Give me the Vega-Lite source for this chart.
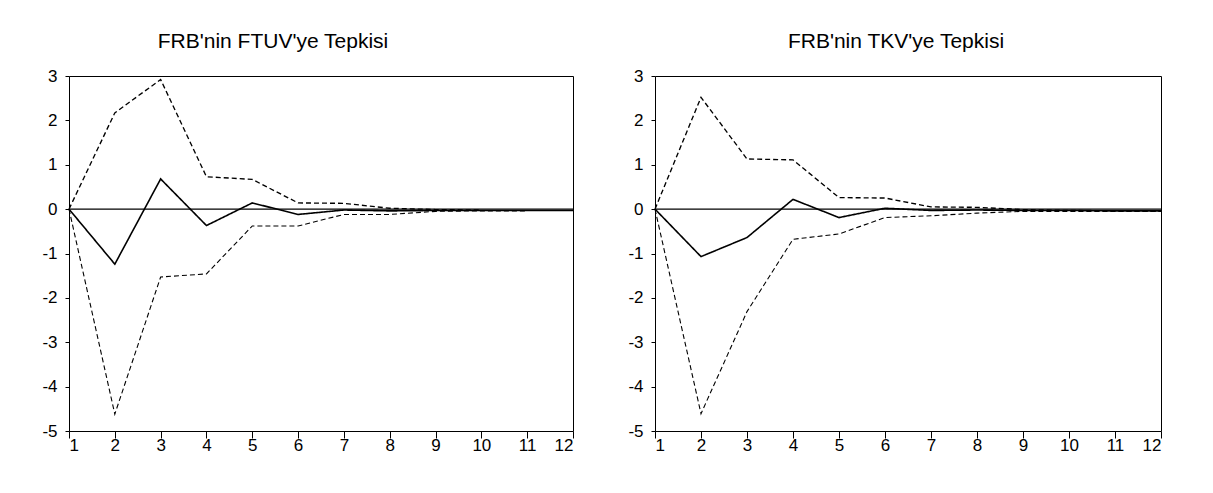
{
  "$schema": "https://vega.github.io/schema/vega-lite/v6.json",
  "background": "white",
  "padding": {"left": 41, "top": 30, "right": 5, "bottom": 5},
  "bounds": "flush",
  "spacing": 82,
  "config": {
    "font": "Liberation Sans",
    "view": {"stroke": "black", "strokeWidth": 1},
    "axis": {
      "grid": false,
      "domain": false,
      "tickColor": "black",
      "labelColor": "black",
      "labelFontSize": 17,
      "labelFont": "Liberation Sans"
    },
    "title": {"font": "Liberation Sans", "fontSize": 21, "fontWeight": "normal", "color": "black", "offset": 15}
  },
  "datasets": {
    "ftuv": [
      {"h": 1, "s": "resp", "v": 0}, {"h": 2, "s": "resp", "v": -1.24}, {"h": 3, "s": "resp", "v": 0.68}, {"h": 4, "s": "resp", "v": -0.37}, {"h": 5, "s": "resp", "v": 0.14}, {"h": 6, "s": "resp", "v": -0.12}, {"h": 7, "s": "resp", "v": -0.02}, {"h": 8, "s": "resp", "v": -0.04}, {"h": 9, "s": "resp", "v": -0.03}, {"h": 10, "s": "resp", "v": -0.03}, {"h": 11, "s": "resp", "v": -0.03}, {"h": 12, "s": "resp", "v": -0.03},
      {"h": 1, "s": "upper", "v": 0}, {"h": 2, "s": "upper", "v": 2.17}, {"h": 3, "s": "upper", "v": 2.92}, {"h": 4, "s": "upper", "v": 0.73}, {"h": 5, "s": "upper", "v": 0.67}, {"h": 6, "s": "upper", "v": 0.14}, {"h": 7, "s": "upper", "v": 0.13}, {"h": 8, "s": "upper", "v": 0.02}, {"h": 9, "s": "upper", "v": -0.01}, {"h": 10, "s": "upper", "v": -0.02},
      {"h": 1, "s": "lower", "v": 0}, {"h": 2, "s": "lower", "v": -4.62}, {"h": 3, "s": "lower", "v": -1.53}, {"h": 4, "s": "lower", "v": -1.46}, {"h": 5, "s": "lower", "v": -0.38}, {"h": 6, "s": "lower", "v": -0.38}, {"h": 7, "s": "lower", "v": -0.12}, {"h": 8, "s": "lower", "v": -0.12}, {"h": 9, "s": "lower", "v": -0.05}, {"h": 10, "s": "lower", "v": -0.04}, {"h": 11, "s": "lower", "v": -0.04}
    ],
    "tkv": [
      {"h": 1, "s": "resp", "v": 0}, {"h": 2, "s": "resp", "v": -1.07}, {"h": 3, "s": "resp", "v": -0.64}, {"h": 4, "s": "resp", "v": 0.22}, {"h": 5, "s": "resp", "v": -0.19}, {"h": 6, "s": "resp", "v": 0.02}, {"h": 7, "s": "resp", "v": -0.03}, {"h": 8, "s": "resp", "v": -0.02}, {"h": 9, "s": "resp", "v": -0.03}, {"h": 10, "s": "resp", "v": -0.03}, {"h": 11, "s": "resp", "v": -0.04}, {"h": 12, "s": "resp", "v": -0.04},
      {"h": 1, "s": "upper", "v": 0}, {"h": 2, "s": "upper", "v": 2.52}, {"h": 3, "s": "upper", "v": 1.13}, {"h": 4, "s": "upper", "v": 1.11}, {"h": 5, "s": "upper", "v": 0.26}, {"h": 6, "s": "upper", "v": 0.25}, {"h": 7, "s": "upper", "v": 0.05}, {"h": 8, "s": "upper", "v": 0.04}, {"h": 9, "s": "upper", "v": -0.01}, {"h": 10, "s": "upper", "v": -0.03}, {"h": 11, "s": "upper", "v": -0.04}, {"h": 12, "s": "upper", "v": -0.05},
      {"h": 1, "s": "lower", "v": 0}, {"h": 2, "s": "lower", "v": -4.61}, {"h": 3, "s": "lower", "v": -2.31}, {"h": 4, "s": "lower", "v": -0.68}, {"h": 5, "s": "lower", "v": -0.56}, {"h": 6, "s": "lower", "v": -0.19}, {"h": 7, "s": "lower", "v": -0.15}, {"h": 8, "s": "lower", "v": -0.09}, {"h": 9, "s": "lower", "v": -0.05}, {"h": 10, "s": "lower", "v": -0.05}, {"h": 11, "s": "lower", "v": -0.05}, {"h": 12, "s": "lower", "v": -0.05}
    ],
    "zero": [{"z": 0}]
  },
  "hconcat": [
    {
      "width": 504,
      "height": 355,
      "title": {"text": "FRB'nin FTUV'ye Tepkisi", "dx": -48},
      "layer": [
        {
          "data": {"name": "zero"},
          "mark": {"type": "rule", "color": "black", "strokeWidth": 1.3},
          "encoding": {"y": {"field": "z", "type": "quantitative", "scale": {"domain": [-5, 3]}}}
        },
        {
          "data": {"name": "ftuv"},
          "mark": {"type": "line", "color": "black"},
          "encoding": {
            "x": {"field": "h", "type": "quantitative", "scale": {"domain": [1, 12], "nice": false, "zero": false}, "axis": {"title": null, "values": [1,2,3,4,5,6,7,8,9,10,11,12], "tickSize": 7, "labelPadding": -1, "labelFontSize": 17, "labelExpr": "datum.value"}},
            "y": {"field": "v", "type": "quantitative", "scale": {"domain": [-5, 3], "nice": false}, "axis": {"title": null, "values": [-5,-4,-3,-2,-1,0,1,2,3], "tickSize": 4, "labelPadding": 8, "labelFontSize": 17, "labelExpr": "datum.value"}},
            "detail": {"field": "s"},
            "strokeDash": {"field": "s", "type": "nominal", "scale": {"domain": ["resp", "upper", "lower"], "range": [[1, 0], [5, 3], [5, 3]]}, "legend": null},
            "strokeWidth": {"field": "s", "type": "nominal", "scale": {"domain": ["resp", "upper", "lower"], "range": [1.6, 1.1, 1.1]}, "legend": null}
          }
        }
      ]
    },
    {
      "width": 506,
      "height": 355,
      "title": {"text": "FRB'nin TKV'ye Tepkisi", "dx": -12},
      "layer": [
        {
          "data": {"name": "zero"},
          "mark": {"type": "rule", "color": "black", "strokeWidth": 1.3},
          "encoding": {"y": {"field": "z", "type": "quantitative", "scale": {"domain": [-5, 3]}}}
        },
        {
          "data": {"name": "tkv"},
          "mark": {"type": "line", "color": "black"},
          "encoding": {
            "x": {"field": "h", "type": "quantitative", "scale": {"domain": [1, 12], "nice": false, "zero": false}, "axis": {"title": null, "values": [1,2,3,4,5,6,7,8,9,10,11,12], "tickSize": 7, "labelPadding": -1, "labelFontSize": 17, "labelExpr": "datum.value"}},
            "y": {"field": "v", "type": "quantitative", "scale": {"domain": [-5, 3], "nice": false}, "axis": {"title": null, "values": [-5,-4,-3,-2,-1,0,1,2,3], "tickSize": 4, "labelPadding": 8, "labelFontSize": 17, "labelExpr": "datum.value"}},
            "detail": {"field": "s"},
            "strokeDash": {"field": "s", "type": "nominal", "scale": {"domain": ["resp", "upper", "lower"], "range": [[1, 0], [5, 3], [5, 3]]}, "legend": null},
            "strokeWidth": {"field": "s", "type": "nominal", "scale": {"domain": ["resp", "upper", "lower"], "range": [1.6, 1.1, 1.1]}, "legend": null}
          }
        }
      ]
    }
  ]
}
